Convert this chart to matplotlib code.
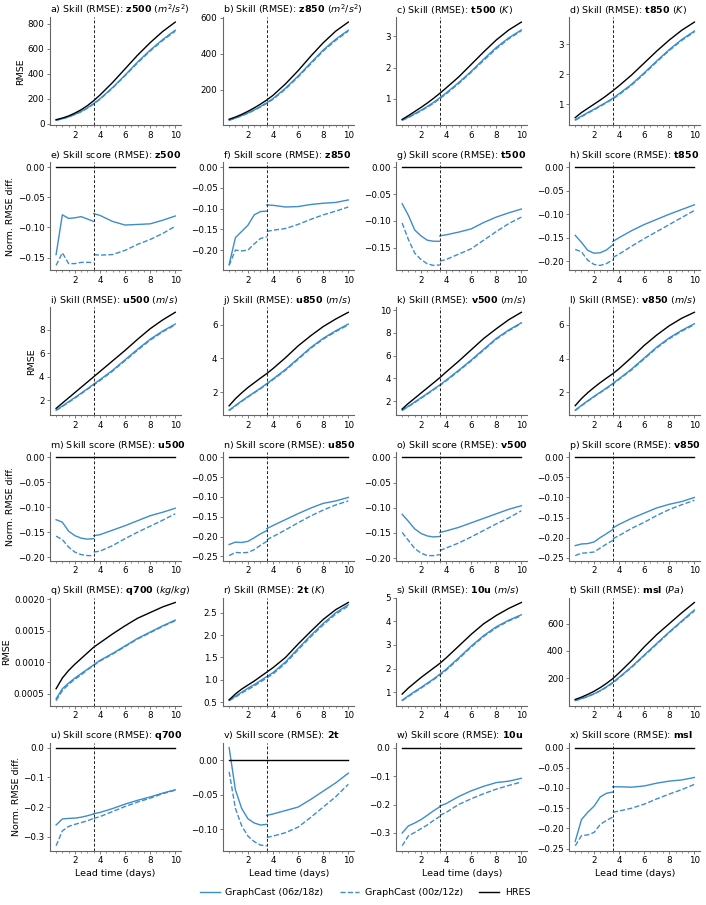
import numpy as np
import matplotlib
matplotlib.use("Agg")
import matplotlib.pyplot as plt
from matplotlib.ticker import AutoMinorLocator, MultipleLocator, FormatStrFormatter
from matplotlib.lines import Line2D

# lead times (days)
lead = [0.5, 1, 1.5, 2, 2.5, 3, 3.5, 4, 5, 6, 7, 8, 9, 10]
lead_early = [0.5, 1, 1.5, 2, 2.5, 3, 3.5]
lead_late = [3.5, 4, 5, 6, 7, 8, 9, 10]

# ---- RMSE: HRES, GraphCast 06z/18z, GraphCast 00z/12z ----
z500_hres = [32, 45, 62, 85, 112, 145, 185, 230, 330, 440, 550, 650, 740, 815]
z500_gc = [28, 40, 55, 75, 98, 127, 162, 200, 290, 390, 495, 590, 675, 750]
z500_gc0 = [27, 39, 54, 74, 96, 125, 158, 196, 285, 385, 488, 583, 668, 742]

z850_hres = [35, 47, 62, 79, 98, 119, 142, 168, 232, 305, 385, 460, 525, 575]
z850_gc = [30, 42, 55, 70, 87, 106, 127, 150, 208, 275, 348, 420, 480, 530]
z850_gc0 = [29, 41, 54, 68, 85, 103, 123, 146, 203, 270, 342, 414, 474, 525]

t500_hres = [0.35, 0.47, 0.6, 0.73, 0.87, 1.02, 1.18, 1.35, 1.7, 2.1, 2.5, 2.88, 3.2, 3.45]
t500_gc = [0.33, 0.42, 0.53, 0.64, 0.76, 0.89, 1.04, 1.19, 1.52, 1.88, 2.27, 2.64, 2.95, 3.2]
t500_gc0 = [0.32, 0.41, 0.51, 0.62, 0.74, 0.86, 1.01, 1.16, 1.49, 1.85, 2.23, 2.6, 2.92, 3.17]

t850_hres = [0.55, 0.72, 0.86, 1.0, 1.14, 1.29, 1.45, 1.62, 1.98, 2.38, 2.78, 3.15, 3.48, 3.75]
t850_gc = [0.48, 0.6, 0.72, 0.83, 0.95, 1.07, 1.2, 1.35, 1.67, 2.05, 2.45, 2.83, 3.17, 3.45]
t850_gc0 = [0.46, 0.58, 0.7, 0.81, 0.93, 1.05, 1.18, 1.32, 1.64, 2.02, 2.42, 2.8, 3.14, 3.42]

u500_hres = [1.3, 1.75, 2.2, 2.65, 3.1, 3.55, 4.0, 4.45, 5.35, 6.25, 7.2, 8.1, 8.85, 9.5]
u500_gc = [1.15, 1.5, 1.87, 2.23, 2.6, 2.98, 3.37, 3.75, 4.55, 5.45, 6.35, 7.2, 7.9, 8.5]
u500_gc0 = [1.12, 1.46, 1.82, 2.18, 2.55, 2.93, 3.3, 3.68, 4.48, 5.37, 6.27, 7.12, 7.83, 8.43]

u850_hres = [1.18, 1.6, 1.95, 2.27, 2.55, 2.83, 3.1, 3.4, 4.05, 4.75, 5.35, 5.9, 6.35, 6.75]
u850_gc = [0.92, 1.2, 1.47, 1.73, 1.98, 2.23, 2.5, 2.78, 3.35, 4.0, 4.65, 5.2, 5.65, 6.05]
u850_gc0 = [0.9, 1.17, 1.44, 1.7, 1.95, 2.2, 2.46, 2.74, 3.3, 3.95, 4.6, 5.15, 5.6, 6.0]

v500_hres = [1.3, 1.8, 2.25, 2.7, 3.15, 3.6, 4.05, 4.55, 5.5, 6.5, 7.5, 8.35, 9.15, 9.8]
v500_gc = [1.2, 1.55, 1.92, 2.29, 2.66, 3.04, 3.42, 3.83, 4.7, 5.6, 6.55, 7.5, 8.25, 8.88]
v500_gc0 = [1.17, 1.51, 1.87, 2.24, 2.61, 2.99, 3.36, 3.77, 4.63, 5.53, 6.48, 7.43, 8.18, 8.82]

v850_hres = [1.2, 1.62, 1.97, 2.28, 2.57, 2.84, 3.1, 3.4, 4.07, 4.78, 5.4, 5.95, 6.4, 6.75]
v850_gc = [0.93, 1.22, 1.49, 1.75, 2.0, 2.25, 2.52, 2.8, 3.38, 4.03, 4.68, 5.23, 5.68, 6.07]
v850_gc0 = [0.91, 1.19, 1.46, 1.72, 1.97, 2.22, 2.48, 2.76, 3.33, 3.98, 4.63, 5.18, 5.63, 6.02]

q700_hres = [0.00058, 0.00075, 0.00087, 0.00097, 0.00106, 0.00115, 0.00124, 0.00131,
             0.00145, 0.00158, 0.0017, 0.00179, 0.00188, 0.00195]
q700_gc = [0.00042, 0.00058, 0.00067, 0.00075, 0.00082, 0.00089, 0.00096, 0.00103,
           0.00114, 0.00126, 0.00138, 0.00148, 0.00158, 0.00167]
q700_gc0 = [0.00039, 0.00055, 0.00065, 0.00073, 0.0008, 0.00088, 0.00095, 0.00102,
            0.00113, 0.00125, 0.00137, 0.00147, 0.00157, 0.00166]

t2_hres = [0.55, 0.68, 0.79, 0.88, 0.97, 1.07, 1.17, 1.27, 1.5, 1.8, 2.08, 2.35, 2.57, 2.73]
t2_gc = [0.54, 0.63, 0.72, 0.81, 0.89, 0.98, 1.07, 1.16, 1.4, 1.7, 1.99, 2.26, 2.5, 2.68]
t2_gc0 = [0.53, 0.61, 0.7, 0.78, 0.86, 0.95, 1.04, 1.13, 1.37, 1.67, 1.96, 2.23, 2.47, 2.65]

u10_hres = [0.92, 1.18, 1.4, 1.62, 1.82, 2.02, 2.22, 2.45, 2.95, 3.45, 3.9, 4.25, 4.55, 4.8]
u10_gc = [0.66, 0.85, 1.03, 1.2, 1.38, 1.56, 1.76, 1.97, 2.45, 2.95, 3.4, 3.77, 4.05, 4.28]
u10_gc0 = [0.64, 0.82, 1.0, 1.17, 1.35, 1.53, 1.72, 1.93, 2.41, 2.91, 3.36, 3.73, 4.02, 4.24]

msl_hres = [45, 62, 82, 105, 132, 163, 198, 240, 330, 430, 520, 600, 680, 755]
msl_gc = [38, 52, 68, 87, 110, 138, 170, 207, 285, 370, 455, 540, 620, 700]
msl_gc0 = [36, 50, 66, 85, 107, 135, 166, 203, 280, 365, 450, 535, 615, 693]

# ---- Skill score (normalised RMSE difference vs HRES), early / late ----
z500_ss_e = [-0.145, -0.079, -0.085, -0.084, -0.082, -0.086, -0.090]
z500_ss0_e = [-0.163, -0.142, -0.160, -0.160, -0.158, -0.158, -0.158]
z500_ss_l = [-0.077, -0.080, -0.090, -0.096, -0.095, -0.094, -0.088, -0.081]
z500_ss0_l = [-0.145, -0.146, -0.145, -0.138, -0.128, -0.120, -0.110, -0.098]

z850_ss_e = [-0.235, -0.170, -0.155, -0.140, -0.115, -0.107, -0.106]
z850_ss0_e = [-0.237, -0.200, -0.202, -0.200, -0.185, -0.172, -0.168]
z850_ss_l = [-0.091, -0.092, -0.096, -0.095, -0.090, -0.087, -0.085, -0.079]
z850_ss0_l = [-0.155, -0.152, -0.148, -0.138, -0.126, -0.115, -0.106, -0.096]

t500_ss_e = [-0.068, -0.090, -0.117, -0.128, -0.136, -0.138, -0.138]
t500_ss0_e = [-0.104, -0.135, -0.160, -0.172, -0.180, -0.183, -0.182]
t500_ss_l = [-0.128, -0.126, -0.121, -0.115, -0.103, -0.093, -0.085, -0.078]
t500_ss0_l = [-0.175, -0.172, -0.162, -0.152, -0.136, -0.120, -0.105, -0.093]

t850_ss_e = [-0.145, -0.160, -0.177, -0.183, -0.182, -0.176, -0.165]
t850_ss0_e = [-0.175, -0.180, -0.198, -0.207, -0.209, -0.205, -0.197]
t850_ss_l = [-0.158, -0.150, -0.135, -0.122, -0.111, -0.100, -0.090, -0.080]
t850_ss0_l = [-0.192, -0.185, -0.168, -0.152, -0.137, -0.122, -0.107, -0.092]

u500_ss_e = [-0.125, -0.130, -0.148, -0.157, -0.162, -0.164, -0.163]
u500_ss0_e = [-0.158, -0.165, -0.180, -0.190, -0.195, -0.197, -0.197]
u500_ss_l = [-0.157, -0.155, -0.146, -0.137, -0.127, -0.117, -0.110, -0.102]
u500_ss0_l = [-0.190, -0.188, -0.177, -0.163, -0.150, -0.138, -0.126, -0.113]

u850_ss_e = [-0.220, -0.214, -0.215, -0.212, -0.203, -0.193, -0.185]
u850_ss0_e = [-0.248, -0.240, -0.241, -0.240, -0.233, -0.222, -0.212]
u850_ss_l = [-0.180, -0.172, -0.157, -0.142, -0.128, -0.116, -0.110, -0.101]
u850_ss0_l = [-0.208, -0.200, -0.183, -0.165, -0.148, -0.133, -0.120, -0.110]

v500_ss_e = [-0.113, -0.127, -0.142, -0.151, -0.156, -0.158, -0.157]
v500_ss0_e = [-0.149, -0.165, -0.181, -0.190, -0.195, -0.195, -0.193]
v500_ss_l = [-0.149, -0.146, -0.139, -0.130, -0.121, -0.112, -0.103, -0.096]
v500_ss0_l = [-0.185, -0.180, -0.170, -0.158, -0.145, -0.132, -0.120, -0.106]

v850_ss_e = [-0.220, -0.216, -0.215, -0.211, -0.200, -0.190, -0.180]
v850_ss0_e = [-0.245, -0.239, -0.238, -0.236, -0.226, -0.216, -0.207]
v850_ss_l = [-0.176, -0.167, -0.152, -0.139, -0.126, -0.117, -0.110, -0.100]
v850_ss0_l = [-0.203, -0.195, -0.177, -0.162, -0.145, -0.130, -0.118, -0.107]

q700_ss_e = [-0.260, -0.240, -0.238, -0.237, -0.234, -0.229, -0.223]
q700_ss0_e = [-0.330, -0.280, -0.265, -0.258, -0.252, -0.246, -0.238]
q700_ss_l = [-0.222, -0.218, -0.205, -0.190, -0.177, -0.166, -0.153, -0.142]
q700_ss0_l = [-0.238, -0.232, -0.215, -0.198, -0.183, -0.170, -0.155, -0.143]

t2_ss_e = [0.018, -0.043, -0.070, -0.085, -0.091, -0.094, -0.093]
t2_ss0_e = [-0.017, -0.070, -0.095, -0.110, -0.118, -0.123, -0.124]
t2_ss_l = [-0.080, -0.078, -0.073, -0.068, -0.057, -0.045, -0.033, -0.019]
t2_ss0_l = [-0.112, -0.110, -0.105, -0.097, -0.083, -0.068, -0.053, -0.035]

u10_ss_e = [-0.300, -0.275, -0.265, -0.253, -0.238, -0.222, -0.208]
u10_ss0_e = [-0.345, -0.310, -0.298, -0.285, -0.272, -0.256, -0.242]
u10_ss_l = [-0.205, -0.197, -0.172, -0.152, -0.136, -0.123, -0.118, -0.108]
u10_ss0_l = [-0.238, -0.228, -0.200, -0.180, -0.162, -0.146, -0.133, -0.121]

msl_ss_e = [-0.232, -0.178, -0.160, -0.145, -0.122, -0.113, -0.110]
msl_ss0_e = [-0.243, -0.218, -0.216, -0.210, -0.190, -0.180, -0.172]
msl_ss_l = [-0.097, -0.097, -0.098, -0.095, -0.088, -0.083, -0.080, -0.074]
msl_ss0_l = [-0.160, -0.157, -0.150, -0.140, -0.127, -0.115, -0.104, -0.091]

variables = ["z500", "z850", "t500", "t850", "u500", "u850", "v500", "v850",
             "q700", "2t", "10u", "msl"]
units = ["m^2/s^2", "m^2/s^2", "K", "K", "m/s", "m/s", "m/s", "m/s",
         "kg/kg", "K", "m/s", "Pa"]
rmse_data = [
    (z500_hres, z500_gc, z500_gc0), (z850_hres, z850_gc, z850_gc0),
    (t500_hres, t500_gc, t500_gc0), (t850_hres, t850_gc, t850_gc0),
    (u500_hres, u500_gc, u500_gc0), (u850_hres, u850_gc, u850_gc0),
    (v500_hres, v500_gc, v500_gc0), (v850_hres, v850_gc, v850_gc0),
    (q700_hres, q700_gc, q700_gc0), (t2_hres, t2_gc, t2_gc0),
    (u10_hres, u10_gc, u10_gc0), (msl_hres, msl_gc, msl_gc0),
]
ss_data = [
    (z500_ss_e, z500_ss0_e, z500_ss_l, z500_ss0_l),
    (z850_ss_e, z850_ss0_e, z850_ss_l, z850_ss0_l),
    (t500_ss_e, t500_ss0_e, t500_ss_l, t500_ss0_l),
    (t850_ss_e, t850_ss0_e, t850_ss_l, t850_ss0_l),
    (u500_ss_e, u500_ss0_e, u500_ss_l, u500_ss0_l),
    (u850_ss_e, u850_ss0_e, u850_ss_l, u850_ss0_l),
    (v500_ss_e, v500_ss0_e, v500_ss_l, v500_ss0_l),
    (v850_ss_e, v850_ss0_e, v850_ss_l, v850_ss0_l),
    (q700_ss_e, q700_ss0_e, q700_ss_l, q700_ss0_l),
    (t2_ss_e, t2_ss0_e, t2_ss_l, t2_ss0_l),
    (u10_ss_e, u10_ss0_e, u10_ss_l, u10_ss0_l),
    (msl_ss_e, msl_ss0_e, msl_ss_l, msl_ss0_l),
]

BLUE = "#3d8ccc"
FS = 6.8
TFS = 6.3
SPINE = "#666666"

plt.rcParams["font.family"] = "DejaVu Sans"
plt.rcParams["mathtext.fontset"] = "dejavusans"

fig, axes = plt.subplots(6, 4, figsize=(7.06, 9.05), dpi=100)
fig.subplots_adjust(left=0.071, right=0.992, top=0.981, bottom=0.060,
                    wspace=0.32, hspace=0.343)


def style(ax):
    for s in ["top", "right"]:
        ax.spines[s].set_visible(False)
    for s in ["left", "bottom"]:
        ax.spines[s].set_color(SPINE)
        ax.spines[s].set_linewidth(0.8)
    ax.xaxis.set_major_locator(MultipleLocator(2))
    ax.xaxis.set_minor_locator(AutoMinorLocator())
    ax.tick_params(which="major", labelsize=TFS, length=2.5, width=0.6,
                   color=SPINE, pad=1.5)
    ax.tick_params(which="minor", length=1.3, width=0.5, color=SPINE)
    ax.set_xlim(0.025, 10.475)


letters = "abcdefghijklmnopqrstuvwx"
for k, var in enumerate(variables):
    grp, col = divmod(k, 4)
    ax_r = axes[2 * grp, col]
    ax_s = axes[2 * grp + 1, col]
    hres, gc, gc0 = rmse_data[k]
    ss_e, ss0_e, ss_l, ss0_l = ss_data[k]

    # RMSE panel
    ax_r.plot(lead, gc, color=BLUE, lw=1.0)
    ax_r.plot(lead, gc0, color=BLUE, lw=1.0, ls="--")
    ax_r.plot(lead, hres, color="black", lw=1.0)
    ax_r.axvline(3.5, color="#222222", ls=(0, (3, 2)), lw=0.7)
    style(ax_r)
    ax_r.set_title("%s) Skill (RMSE): $\\mathbf{%s}$ ($%s$)"
                   % (letters[8 * grp + col], var, units[k]),
                   loc="left", fontsize=FS, pad=3)

    # skill score panel
    ax_s.plot(lead_early, ss_e, color=BLUE, lw=1.0)
    ax_s.plot(lead_late, ss_l, color=BLUE, lw=1.0)
    ax_s.plot(lead_early, ss0_e, color=BLUE, lw=1.0, ls="--")
    ax_s.plot(lead_late, ss0_l, color=BLUE, lw=1.0, ls="--")
    ax_s.plot([lead[0], lead[-1]], [0, 0], color="black", lw=1.0)
    ax_s.axvline(3.5, color="#222222", ls=(0, (3, 2)), lw=0.7)
    style(ax_s)
    ax_s.set_title("%s) Skill score (RMSE): $\\mathbf{%s}$"
                   % (letters[8 * grp + 4 + col], var),
                   loc="left", fontsize=FS, pad=3)

    if var == "q700":
        ax_r.yaxis.set_major_locator(MultipleLocator(0.0005))
        ax_r.yaxis.set_major_formatter(FormatStrFormatter("%.4f"))

    if col == 0:
        ax_r.set_ylabel("RMSE", fontsize=FS, labelpad=2)
        ax_s.set_ylabel("Norm. RMSE diff.", fontsize=FS, labelpad=2)
    if grp == 2:
        ax_s.set_xlabel("Lead time (days)", fontsize=FS, labelpad=3)

handles = [Line2D([], [], color=BLUE, lw=1.0),
           Line2D([], [], color=BLUE, lw=1.0, ls="--"),
           Line2D([], [], color="black", lw=1.0)]
fig.legend(handles, ["GraphCast (06z/18z)", "GraphCast (00z/12z)", "HRES"],
           loc="center", bbox_to_anchor=(0.517, 0.0135), ncol=3,
           frameon=False, fontsize=FS, handlelength=2.1, handletextpad=0.6,
           columnspacing=1.7)

fig.savefig("out.png", dpi=100)
